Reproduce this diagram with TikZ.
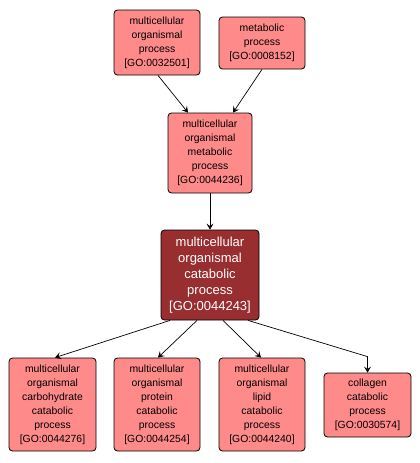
\documentclass[tikz,border=0pt]{standalone}
\usepackage{fontspec}
\setmainfont{Liberation Sans}
\usetikzlibrary{arrows.meta}
\definecolor{lightgo}{RGB}{255,138,138}
\definecolor{darkgo}{RGB}{152,46,48}
\tikzset{
  goterm/.style={draw=black, line width=0.8pt, fill=lightgo, rounded corners=3.5pt,
    inner sep=0pt, align=center, font=\fontsize{10.4}{14}\selectfont},
  gomain/.style={draw=black, line width=0.8pt, fill=darkgo, rounded corners=3.5pt,
    inner sep=0pt, align=center, text=white, font=\fontsize{13}{16}\selectfont},
  golink/.style={draw=black, line width=0.7pt, -{Stealth[length=6pt,width=7pt,inset=2.5pt]}}
}
\begin{document}
\begin{tikzpicture}[x=1pt,y=-1pt]
\useasboundingbox (0,0) rectangle (420,463);
\node[goterm, minimum width=86pt, minimum height=65pt] (A) at (157,42.5)
  {multicellular\\organismal\\process\\{[GO:0032501]}};
\node[goterm, minimum width=86pt, minimum height=52pt] (B) at (262,43)
  {metabolic\\process\\{[GO:0008152]}};
\node[goterm, minimum width=84pt, minimum height=80pt] (C) at (210,153)
  {multicellular\\organismal\\metabolic\\process\\{[GO:0044236]}};
\node[gomain, minimum width=98pt, minimum height=90pt] (D) at (210,275)
  {multicellular\\organismal\\catabolic\\process\\{[GO:0044243]}};
\node[goterm, minimum width=87pt, minimum height=93pt] (E1) at (52.5,404.5)
  {multicellular\\organismal\\carbohydrate\\catabolic\\process\\{[GO:0044276]}};
\node[goterm, minimum width=86pt, minimum height=93pt] (E2) at (157,404.5)
  {multicellular\\organismal\\protein\\catabolic\\process\\{[GO:0044254]}};
\node[goterm, minimum width=86pt, minimum height=93pt] (E3) at (262,404.5)
  {multicellular\\organismal\\lipid\\catabolic\\process\\{[GO:0044240]}};
\node[goterm, minimum width=87pt, minimum height=64pt] (E4) at (367.5,405)
  {collagen\\catabolic\\process\\{[GO:0030574]}};
\draw[golink] ([xshift=1pt]A.south) -- ([xshift=-22pt]C.north);
\draw[golink] ([xshift=0pt]B.south) -- ([xshift=23pt]C.north);
\draw[golink] (C.south) -- (D.north);
\draw[golink] ([xshift=-40pt]D.south) -- ([xshift=2.5pt]E1.north);
\draw[golink] ([xshift=-13pt]D.south) -- ([xshift=1pt]E2.north);
\draw[golink] ([xshift=13pt]D.south) -- ([xshift=-1pt]E3.north);
\coordinate (bend) at ([yshift=16pt]E4.north);
\draw[golink] ([xshift=38pt]D.south) -- (bend) -- (E4.north);
\end{tikzpicture}
\end{document}
